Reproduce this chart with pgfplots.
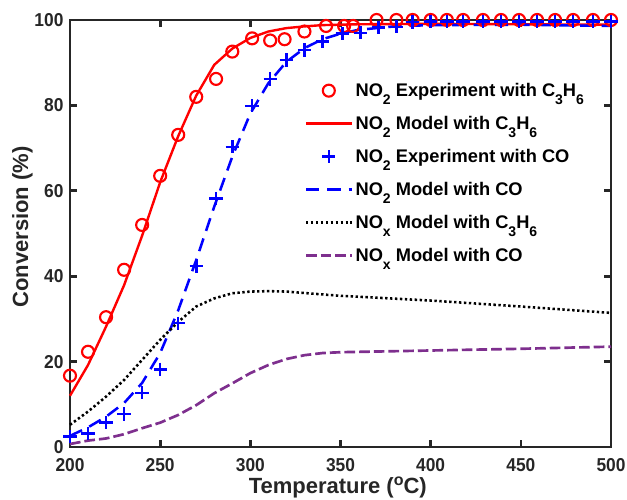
\documentclass[border=0pt]{standalone}
\usepackage{fontspec}
\setmainfont{Liberation Sans}
\newfontfamily\tickfont[FakeStretch=0.93]{Liberation Sans}
\usepackage{pgfplots}
\pgfplotsset{compat=1.18}
\definecolor{axgray}{RGB}{38,38,38}
\definecolor{mpurple}{RGB}{126,47,142}
% MATLAB-style low subscript
\newcommand\sub[1]{\raisebox{-5.5pt}{\fontsize{10.5}{11}\selectfont #1}}

\begin{document}
\begin{tikzpicture}
\begin{axis}[
  scale only axis,
  width=405.75pt, height=320.25pt,
  xmin=200, xmax=500, ymin=0, ymax=100,
  xtick={200,250,...,500}, ytick={0,20,...,100},
  axis line style={axgray, line width=2pt},
  tick style={axgray, line width=2pt},
  major tick length=5pt,
  tick align=inside,
  ticklabel style={font=\tickfont\fontsize{14}{16}\selectfont\bfseries, text=axgray},
  /pgf/number format/assume math mode=true,
  xticklabel style={yshift=-5pt},
  yticklabel style={xshift=-1.4pt},
  xlabel={\textbf{Temperature (\raisebox{6pt}{\fontsize{12}{12}\selectfont o}C)}},
  ylabel={\textbf{Conversion (\%)}},
  label style={font=\fontsize{16.5}{18}\selectfont, text=axgray},
  xlabel style={at={(axis description cs:0.495,0)}, anchor=center, yshift=-30.5pt},
  ylabel style={at={(axis description cs:-0.0877,0.515)}, anchor=center},
  legend style={draw=none, fill=none, at={(0.426,0.88)}, anchor=north west,
    font=\fontsize{13.7}{15}\selectfont\bfseries, row sep=0pt,
    nodes={text height=16.9pt, text depth=7.85pt, inner ysep=0pt},
    legend cell align=left},
  legend image code/.code={\draw[mark repeat=2,mark phase=2,#1] plot coordinates {(0cm,0cm) (0.6cm,0cm) (1.2cm,0cm)};},
  clip=false,
]
% NO2 experiment with C3H6
\addplot[only marks, mark=o, red, mark size=4.5pt, line width=1.6pt] coordinates {
(200,16.7) (210,22.3) (220,30.4) (230,41.5) (240,52.0) (250,63.5) (260,73.1)
(270,82.0) (281,86.2) (290,92.6) (301,95.7) (311,95.2) (319,95.5) (330,97.3)
(342,98.6) (352,98.6) (357,98.6) (370,100) (381,100) (390,100) (400,100)
(409,100) (418,100) (429,100) (439,100) (449,100) (459,100) (469,100)
(479,100) (490,100) (500,100)};
\addlegendentry{NO\sub{2} Experiment with C\sub{3}H\sub{6}}
% NO2 model with C3H6
\addplot[red, line width=1.8pt] coordinates {
(200,12.0) (210,19.2) (220,28.2) (230,37.9) (240,49.5) (250,62.0) (260,72.8)
(270,82.3) (280,89.5) (290,93.3) (300,95.8) (310,97.3) (320,98.1) (330,98.5)
(340,98.8) (360,99.0) (400,99.1) (450,99.0) (500,98.9)};
\addlegendentry{NO\sub{2} Model with C\sub{3}H\sub{6}}
% NO2 experiment with CO
\addplot[only marks, mark=+, blue, mark size=5pt, line width=1.9pt] coordinates {
(200,2.4) (210,3.2) (220,5.7) (230,7.7) (240,12.7) (250,18.2) (260,29.0)
(270,42.4) (281,58.2) (290,70.3) (301,79.9) (311,86.2) (320,90.6) (330,93.0)
(340,95.0) (351,96.8) (361,97.0) (371,98.2) (381,98.4) (390,99.5) (400,99.7)
(409,99.7) (418,99.7) (429,99.7) (439,99.7) (449,99.7) (459,99.7) (469,99.7)
(479,99.7) (490,99.7) (500,99.7)};
\addlegendentry{NO\sub{2} Experiment with CO}
% NO2 model with CO
\addplot[blue, line width=1.9pt, dash pattern=on 10pt off 6pt] coordinates {
(200,2.6) (210,4.6) (220,7.1) (230,10.3) (240,15.0) (250,22.0) (260,32.0)
(270,43.8) (280,56.3) (290,68.0) (300,78.1) (310,85.2) (320,90.2) (330,93.4)
(340,95.5) (350,96.8) (360,97.7) (380,98.5) (400,98.8) (450,98.9) (500,98.6)};
\addlegendentry{NO\sub{2} Model with CO}
% NOx model with C3H6
\addplot[black, line width=1.9pt, dash pattern=on 1.8pt off 1.9pt] coordinates {
(200,5.2) (210,8.3) (220,11.8) (230,15.7) (240,20.4) (250,25.1) (260,29.3)
(270,32.9) (280,34.8) (290,36.0) (300,36.4) (310,36.5) (320,36.4) (350,35.4)
(400,34.3) (450,32.9) (500,31.4)};
\addlegendentry{NO\sub{x} Model with C\sub{3}H\sub{6}}
% NOx model with CO
\addplot[mpurple, line width=2pt, dash pattern=on 8pt off 3pt] coordinates {
(200,0.7) (210,1.5) (220,2.0) (230,3.0) (240,4.4) (250,5.7) (260,7.5)
(270,9.8) (280,12.6) (290,14.9) (300,17.3) (310,19.2) (320,20.6) (330,21.5)
(340,22.0) (350,22.2) (400,22.6) (450,23.0) (500,23.5)};
\addlegendentry{NO\sub{x} Model with CO}
\end{axis}
\pgfresetboundingbox
\path[use as bounding box] (-52.5pt,-39pt) rectangle (417.75pt,335.25pt);
\end{tikzpicture}
\end{document}
